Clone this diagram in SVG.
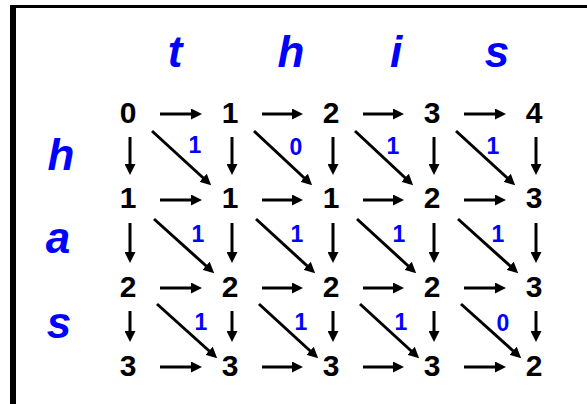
<svg xmlns="http://www.w3.org/2000/svg" width="587" height="404" viewBox="0 0 587 404">
<style>
.n{font-family:"Liberation Sans",Arial,sans-serif;font-weight:bold;font-size:30px;fill:#000;text-anchor:middle}
.w{font-family:"Liberation Sans",Arial,sans-serif;font-weight:bold;font-style:italic;font-size:44px;fill:#0000ff;text-anchor:middle}
.c{font-family:"Liberation Sans",Arial,sans-serif;font-weight:bold;font-size:23px;fill:#0000ff;text-anchor:middle}
.a line{stroke:#000;stroke-width:3;marker-end:url(#ah)}
</style>
<defs>
<marker id="ah" markerUnits="userSpaceOnUse" markerWidth="12" markerHeight="11" refX="4" refY="5.5" orient="auto">
<path d="M0,0 L11,5.5 L0,11 z" fill="#000"/>
</marker>
</defs>
<rect x="0" y="0" width="587" height="404" fill="#fff"/>
<g id="frame">
<rect x="10" y="5" width="6" height="399" fill="#000"/>
<rect x="10" y="5" width="577" height="3" fill="#000"/>
</g>
<g id="top-word">
<text class="w" x="175" y="67">t</text>
<text class="w" x="291" y="67">h</text>
<text class="w" x="396" y="67">i</text>
<text class="w" x="497" y="67">s</text>
</g>
<g id="side-word">
<text class="w" x="61" y="170">h</text>
<text class="w" x="58" y="253">a</text>
<text class="w" x="59" y="338">s</text>
</g>
<g id="connectors" class="a">
<line x1="160" y1="114" x2="195" y2="114"/>
<line x1="262" y1="114" x2="296" y2="114"/>
<line x1="363" y1="114" x2="397" y2="114"/>
<line x1="464" y1="114" x2="499" y2="114"/>
<line x1="160" y1="200" x2="195" y2="200"/>
<line x1="262" y1="200" x2="296" y2="200"/>
<line x1="363" y1="200" x2="397" y2="200"/>
<line x1="464" y1="200" x2="499" y2="200"/>
<line x1="160" y1="288" x2="195" y2="288"/>
<line x1="262" y1="288" x2="296" y2="288"/>
<line x1="363" y1="288" x2="397" y2="288"/>
<line x1="464" y1="288" x2="499" y2="288"/>
<line x1="160" y1="367" x2="195" y2="367"/>
<line x1="262" y1="367" x2="296" y2="367"/>
<line x1="363" y1="367" x2="397" y2="367"/>
<line x1="464" y1="367" x2="499" y2="367"/>
<line x1="130" y1="137" x2="130" y2="168"/>
<line x1="232" y1="137" x2="232" y2="168"/>
<line x1="333" y1="137" x2="333" y2="168"/>
<line x1="434" y1="137" x2="434" y2="168"/>
<line x1="536" y1="137" x2="536" y2="168"/>
<line x1="130" y1="223" x2="130" y2="256"/>
<line x1="232" y1="223" x2="232" y2="256"/>
<line x1="333" y1="223" x2="333" y2="256"/>
<line x1="434" y1="223" x2="434" y2="256"/>
<line x1="536" y1="223" x2="536" y2="256"/>
<line x1="130" y1="311" x2="130" y2="335"/>
<line x1="232" y1="311" x2="232" y2="335"/>
<line x1="333" y1="311" x2="333" y2="335"/>
<line x1="434" y1="311" x2="434" y2="335"/>
<line x1="536" y1="311" x2="536" y2="335"/>
<line x1="152" y1="131" x2="206" y2="180.5"/>
<line x1="254" y1="131" x2="307" y2="180.5"/>
<line x1="355" y1="131" x2="408" y2="180.5"/>
<line x1="456" y1="131" x2="510" y2="180.5"/>
<line x1="154" y1="219" x2="209" y2="268.5"/>
<line x1="256" y1="219" x2="310" y2="268.5"/>
<line x1="357" y1="219" x2="411" y2="268.5"/>
<line x1="458" y1="219" x2="513" y2="268.5"/>
<line x1="157" y1="304" x2="212" y2="353.5"/>
<line x1="259" y1="304" x2="313" y2="353.5"/>
<line x1="360" y1="304" x2="414" y2="353.5"/>
<line x1="461" y1="304" x2="516" y2="353.5"/>
</g>
<g id="costs">
<text class="c" x="195" y="153">1</text>
<text class="c" x="296" y="155">0</text>
<text class="c" x="393" y="154">1</text>
<text class="c" x="493" y="154">1</text>
<text class="c" x="198" y="242">1</text>
<text class="c" x="297" y="242">1</text>
<text class="c" x="399" y="242">1</text>
<text class="c" x="498" y="242">1</text>
<text class="c" x="201" y="330">1</text>
<text class="c" x="301" y="330">1</text>
<text class="c" x="401" y="330">1</text>
<text class="c" x="503" y="331">0</text>
</g>
<g id="row0">
<text id="n00" class="n" x="128" y="123">0</text>
<text id="n01" class="n" x="230" y="123">1</text>
<text id="n02" class="n" x="331" y="123">2</text>
<text id="n03" class="n" x="432" y="123">3</text>
<text id="n04" class="n" x="534" y="123">4</text>
</g>
<g id="row1">
<text id="n10" class="n" x="128" y="208">1</text>
<text id="n11" class="n" x="230" y="208">1</text>
<text id="n12" class="n" x="331" y="208">1</text>
<text id="n13" class="n" x="432" y="208">2</text>
<text id="n14" class="n" x="534" y="208">3</text>
</g>
<g id="row2">
<text id="n20" class="n" x="128" y="297">2</text>
<text id="n21" class="n" x="230" y="297">2</text>
<text id="n22" class="n" x="331" y="297">2</text>
<text id="n23" class="n" x="432" y="297">2</text>
<text id="n24" class="n" x="534" y="297">3</text>
</g>
<g id="row3">
<text id="n30" class="n" x="128" y="376">3</text>
<text id="n31" class="n" x="230" y="376">3</text>
<text id="n32" class="n" x="331" y="376">3</text>
<text id="n33" class="n" x="432" y="376">3</text>
<text id="n34" class="n" x="534" y="376">2</text>
</g>
</svg>
